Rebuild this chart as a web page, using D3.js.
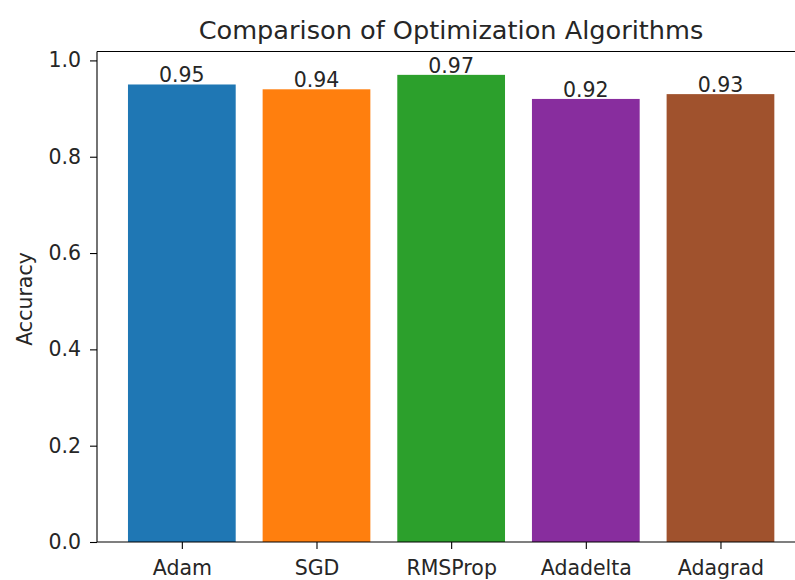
<!DOCTYPE html>
<html>
<head>
<meta charset="utf-8">
<script src="https://cdn.jsdelivr.net/npm/d3@7"></script>
<style>
  html, body { margin: 0; padding: 0; background: #fff; }
  svg { display: block; }
  text { font-family: "DejaVu Sans", sans-serif; fill: #262626; }
</style>
</head>
<body>
<svg id="chart" width="795" height="580"></svg>
<script>
const categories = ["Adam", "SGD", "RMSProp", "Adadelta", "Adagrad"];
const accuracy = [0.95, 0.94, 0.97, 0.92, 0.93];
const barColors = ["#1f77b4", "#ff7f0e", "#2ca02c", "#882d9e", "#a0522d"];
const yTicks = [0.0, 0.2, 0.4, 0.6, 0.8, 1.0];
const titleText = "Comparison of Optimization Algorithms";
const yLabelText = "Accuracy";

(function () {
const svg = d3.select("#chart");
const pL = 97, pR = 808, pT = 51.5, pB = 542;

const x = d3.scaleLinear().domain([-0.63, 4.65]).range([pL, pR]);
const y = d3.scaleLinear().domain([0, 1.0185]).range([pB, pT]);
const barW = 0.8;

// bars
svg.append("g").selectAll("rect").data(categories).join("rect")
  .attr("x", (d, i) => x(i - barW / 2))
  .attr("width", (d, i) => x(i + barW / 2) - x(i - barW / 2))
  .attr("y", (d, i) => y(accuracy[i]))
  .attr("height", (d, i) => y(0) - y(accuracy[i]))
  .attr("fill", (d, i) => barColors[i]);

// value labels
svg.append("g").selectAll("text").data(categories).join("text")
  .attr("x", (d, i) => x(i))
  .attr("y", (d, i) => y(accuracy[i]) - 2)
  .attr("text-anchor", "middle")
  .style("font-size", "20.5px")
  .text((d, i) => accuracy[i].toFixed(2));

// y axis
const yAxis = d3.axisLeft(y).tickValues(yTicks).tickFormat(d3.format(".1f"))
  .tickSize(7).tickPadding(9);
const gy = svg.append("g").attr("transform", `translate(${pL},0)`).call(yAxis);
gy.select(".domain").remove();
gy.selectAll(".tick line").attr("stroke", "#000").attr("stroke-width", 1.1);
gy.selectAll(".tick text").style("font-size", "20.5px").style("font-family", "DejaVu Sans").attr("fill", "#262626");

// x axis
const xAxis = d3.axisBottom(x).tickValues(d3.range(categories.length))
  .tickFormat(i => categories[i]).tickSize(7).tickPadding(11);
const gx = svg.append("g").attr("transform", `translate(0,${pB})`).call(xAxis);
gx.select(".domain").remove();
gx.selectAll(".tick line").attr("stroke", "#000").attr("stroke-width", 1.1);
gx.selectAll(".tick text").style("font-size", "20.5px").style("font-family", "DejaVu Sans").attr("fill", "#262626");

// spines
const sp = svg.append("g").attr("stroke", "#000").attr("stroke-width", 1.1).attr("fill", "none");
sp.append("line").attr("x1", pL).attr("x2", pL).attr("y1", pT).attr("y2", pB);
sp.append("line").attr("x1", pL).attr("x2", pR).attr("y1", pB).attr("y2", pB);
sp.append("line").attr("x1", pL).attr("x2", pR).attr("y1", pT).attr("y2", pT);
sp.append("line").attr("x1", pR).attr("x2", pR).attr("y1", pT).attr("y2", pB);

// title
svg.append("text").attr("x", 451).attr("y", 38.5)
  .attr("text-anchor", "middle").style("font-size", "25.6px").text(titleText);

// y label
svg.append("text").attr("transform", `translate(32,299) rotate(-90)`)
  .attr("text-anchor", "middle").style("font-size", "20.5px").text(yLabelText);
})();
</script>
</body>
</html>
